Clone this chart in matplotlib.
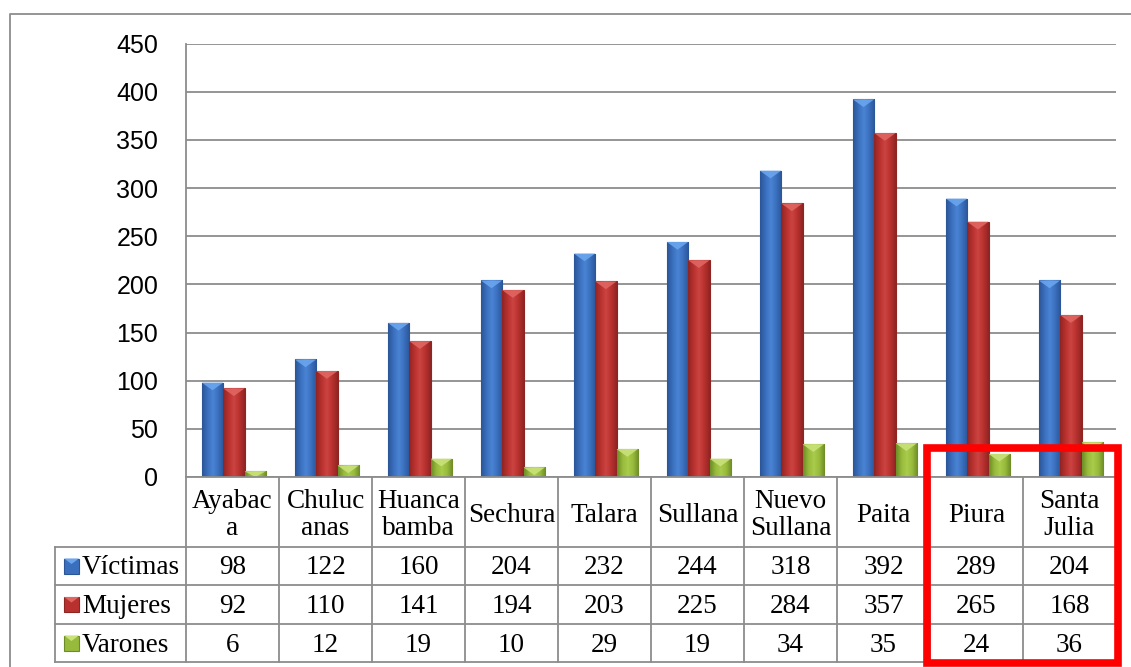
import matplotlib
matplotlib.use("Agg")
import matplotlib.pyplot as plt
import numpy as np
from matplotlib.colors import LinearSegmentedColormap
from matplotlib.patches import Rectangle, Polygon

categorias = ["Ayabac\na", "Chuluc\nanas", "Huanca\nbamba", "Sechura", "Talara",
              "Sullana", "Nuevo\nSullana", "Paita", "Piura", "Santa\nJulia"]
series = ["Víctimas", "Mujeres", "Varones"]
victimas = [98, 122, 160, 204, 232, 244, 318, 392, 289, 204]
mujeres = [92, 110, 141, 194, 203, 225, 284, 357, 265, 168]
varones = [6, 12, 19, 10, 29, 19, 34, 35, 24, 36]
valores = [victimas, mujeres, varones]

# (borde oscuro, cuerpo, brillo, tapa clara)
colores = [("#2b5597", "#3a6fbd", "#4a84d4", "#6aa5ee"),
           ("#8f2523", "#b8312f", "#cc4442", "#e06662"),
           ("#6d8c26", "#97ba3c", "#a9cc4c", "#c9e27a")]

W, H = 1131, 667
fig = plt.figure(figsize=(W / 100, H / 100), dpi=100)

# geometria en pixeles
x_left, x_right = 186, 1116
y_top, y_zero = 43.5, 477
col_w = (x_right - x_left) / len(categorias)
hdr_left = 55
row_y = [477, 547, 585, 624, 662]
gris = "#8c8c8c"

ax = fig.add_axes([x_left / W, (H - y_zero) / H, (x_right - x_left) / W, (y_zero - y_top) / H])
ax.set_xlim(-0.5, len(categorias) - 0.5)
ax.set_ylim(0, 450)
ax.set_yticks(np.arange(0, 451, 50))
ax.set_xticks([])
ax.grid(axis="y", color=gris, linewidth=1.3)
ax.set_axisbelow(True)
for s in ["top", "right", "bottom"]:
    ax.spines[s].set_visible(False)
ax.spines["left"].set_color(gris)
ax.spines["left"].set_linewidth(1.3)
ax.tick_params(axis="y", length=0, pad=20, labelsize=18)
for lab in ax.get_yticklabels():
    lab.set_fontfamily("Liberation Sans")

bw = 0.23
grad = np.linspace(0, 1, 64).reshape(1, -1)
x = np.arange(len(categorias))
for k, vals in enumerate(valores):
    dark, mid, hl, light = colores[k]
    cmap = LinearSegmentedColormap.from_list(f"c{k}", [dark, mid, hl, mid, dark], N=256)
    for i, v in enumerate(vals):
        x0 = x[i] + 0.015 + (k - 1) * bw - bw / 2
        rect = Rectangle((x0, 0), bw, v, facecolor=mid, edgecolor=dark, linewidth=0.8, zorder=2)
        ax.add_patch(rect)
        im = ax.imshow(grad, extent=[x0, x0 + bw, 0, v], cmap=cmap, aspect="auto", zorder=2.1)
        im.set_clip_path(rect)
        d = min(8, v)
        ax.add_patch(Polygon([(x0, v), (x0 + bw, v), (x0 + bw / 2, v - d)],
                             closed=True, facecolor=light, edgecolor="none", alpha=0.9, zorder=2.2))
ax.set_xlim(-0.5, len(categorias) - 0.5)
ax.set_ylim(0, 450)

# tabla de datos
ov = fig.add_axes([0, 0, 1, 1])
ov.set_xlim(0, W)
ov.set_ylim(H, 0)
ov.axis("off")

# marco exterior
ov.plot([10, 10, W], [H, 14, 14], color=gris, linewidth=1.3)

for i in range(len(categorias) + 1):
    ov.plot([x_left + i * col_w] * 2, [row_y[0], row_y[-1]], color=gris, linewidth=1.3)
ov.plot([hdr_left, hdr_left], [row_y[1], row_y[-1]], color=gris, linewidth=1.3)
for j, yy in enumerate(row_y):
    xa = x_left if j == 0 else hdr_left
    ov.plot([xa, x_right], [yy, yy], color=gris, linewidth=1.3)

fs = 19.5
for i, cat in enumerate(categorias):
    cx = x_left + (i + 0.5) * col_w
    ov.text(cx, (row_y[0] + row_y[1]) / 2 + 3, cat, ha="center", va="center",
            fontsize=fs, fontfamily="Liberation Serif", linespacing=1.15)
    for k, vals in enumerate(valores):
        cy = (row_y[k + 1] + row_y[k + 2]) / 2 + 2
        ov.text(cx, cy, str(vals[i]), ha="center", va="center",
                fontsize=fs, fontfamily="Liberation Serif")

for k, nombre in enumerate(series):
    dark, mid, hl, light = colores[k]
    cy = (row_y[k + 1] + row_y[k + 2]) / 2
    ov.add_patch(Rectangle((64, cy - 7.5), 15, 15, facecolor=mid, edgecolor=dark, linewidth=0.8))
    ov.add_patch(Polygon([(64, cy - 7.5), (79, cy - 7.5), (71.5, cy - 2)], closed=True,
                         facecolor=light, edgecolor="none"))
    ov.text(82, cy + 2, nombre, ha="left", va="center", fontsize=fs, fontfamily="Liberation Serif")

# recuadro rojo
ov.add_patch(Rectangle((927, 448), 191, 215, facecolor="none", edgecolor="#ff0000", linewidth=5.5, zorder=5))

fig.savefig("out.png", dpi=100)
